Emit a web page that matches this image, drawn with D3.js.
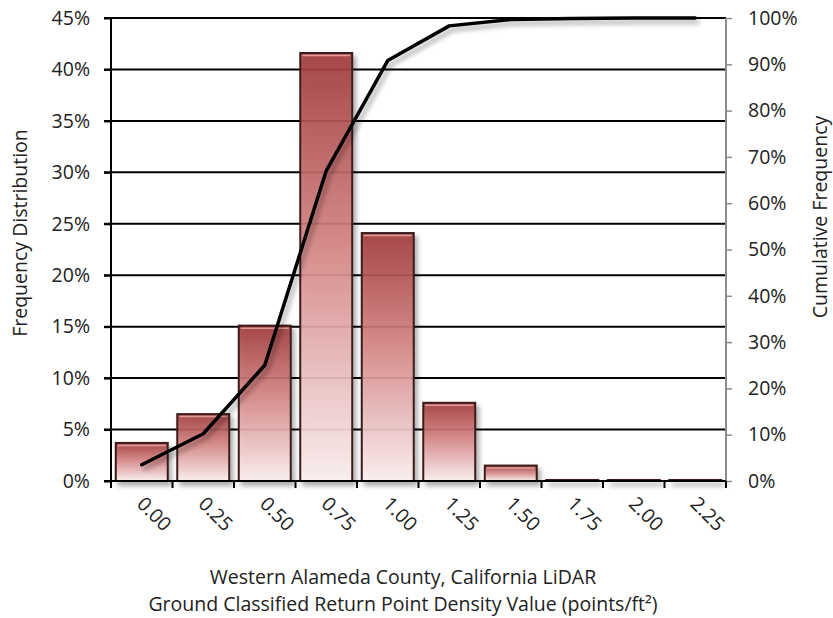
<!DOCTYPE html>
<html>
<head>
<meta charset="utf-8">
<script src="https://cdn.jsdelivr.net/npm/d3@7/dist/d3.min.js"></script>
<style>
  html, body { margin: 0; padding: 0; background: #fff; }
  svg { display: block; font-family: "Open Sans", "Noto Sans", sans-serif; }
</style>
</head>
<body>
<svg id="chart" width="833" height="618"></svg>
<script>
// ---- Data ----
const categories = ["0.00", "0.25", "0.50", "0.75", "1.00", "1.25", "1.50", "1.75", "2.00", "2.25"];
const frequency = [0.037, 0.065, 0.151, 0.416, 0.241, 0.076, 0.015, 0.001, 0.001, 0.001];
const cumulative = [0.035, 0.102, 0.250, 0.670, 0.908, 0.983, 0.997, 0.999, 1.0, 1.0];
const leftTicks = [0, 0.05, 0.10, 0.15, 0.20, 0.25, 0.30, 0.35, 0.40, 0.45];
const rightTicks = [0, 0.1, 0.2, 0.3, 0.4, 0.5, 0.6, 0.7, 0.8, 0.9, 1.0];
const yTitleLeft = "Frequency Distribution";
const yTitleRight = "Cumulative Frequency";
const xTitleLines = ["Western Alameda County, California LiDAR", "Ground Classified Return Point Density Value (points/ft\u00B2)"];

// ---- Layout ----
const L = 111, R = 726, T = 18, B = 481;
const tickFont = 19.5, titleFont = 19.5;
const svg = d3.select("#chart");
const defs = svg.append("defs");

const grad = defs.append("linearGradient").attr("id", "barGrad")
  .attr("x1", 0).attr("y1", 0).attr("x2", 0).attr("y2", 1);
grad.append("stop").attr("offset", "0%").attr("stop-color", "#a13b3b");
grad.append("stop").attr("offset", "45%").attr("stop-color", "#d68585");
grad.append("stop").attr("offset", "100%").attr("stop-color", "#fdf0f0");

const sh = defs.append("filter").attr("id", "shadow")
  .attr("x", "-20%").attr("y", "-20%").attr("width", "140%").attr("height", "140%");
sh.append("feGaussianBlur").attr("in", "SourceAlpha").attr("stdDeviation", 2.5).attr("result", "b");
sh.append("feOffset").attr("in", "b").attr("dx", 3).attr("dy", 4).attr("result", "o");
sh.append("feComponentTransfer").attr("in", "o").attr("result", "oa")
  .append("feFuncA").attr("type", "linear").attr("slope", 0.35);
const mg = sh.append("feMerge");
mg.append("feMergeNode").attr("in", "oa");
mg.append("feMergeNode").attr("in", "SourceGraphic");

// ---- Scales ----
const x = d3.scaleBand().domain(categories).range([L, R]).paddingInner(0.155).paddingOuter(0.0775);
const xEdge = d3.scaleLinear().domain([0, categories.length]).range([L, R]);
const yL = d3.scaleLinear().domain([0, 0.45]).range([B, T]);
const yR = d3.scaleLinear().domain([0, 1]).range([B, T]);

// ---- Gridlines ----
svg.append("g").selectAll("line").data(leftTicks).join("line")
  .attr("x1", L - 7).attr("x2", R)
  .attr("y1", d => yL(d)).attr("y2", d => yL(d))
  .attr("stroke", "#000").attr("stroke-width", 2);

// ---- Bars ----
const bars = svg.append("g").attr("filter", "url(#shadow)");
bars.selectAll("rect.bar").data(frequency).join("rect").attr("class", "bar")
  .attr("x", (d, i) => x(categories[i]))
  .attr("width", x.bandwidth())
  .attr("y", d => yL(d))
  .attr("height", d => B - yL(d))
  .attr("fill", "url(#barGrad)")
  .attr("fill-opacity", 0.9)
  .attr("stroke", "#3d1a1a")
  .attr("stroke-width", 2);
bars.selectAll("line.hl").data(frequency).join("line").attr("class", "hl")
  .attr("x1", (d, i) => x(categories[i]) + 2)
  .attr("x2", (d, i) => x(categories[i]) + x.bandwidth() - 2)
  .attr("y1", d => yL(d) + 2.5).attr("y2", d => yL(d) + 2.5)
  .attr("stroke", "#e29a9a").attr("stroke-width", d => (B - yL(d)) > 6 ? 1.5 : 0);

// ---- Left axis ----
const axL = svg.append("g").attr("transform", `translate(${L},0)`)
  .call(d3.axisLeft(yL).tickValues(leftTicks).tickFormat(d3.format(".0%")).tickSize(7).tickPadding(14));
axL.select(".domain").attr("stroke", "#000").attr("stroke-width", 2).attr("d", `M0,${T}V${B + 7}`);
axL.selectAll(".tick line").attr("stroke", "#000").attr("stroke-width", 2);
axL.selectAll(".tick text").attr("font-size", tickFont).attr("fill", "#222").attr("font-family", "Open Sans");

// ---- Right axis ----
const axR = svg.append("g").attr("transform", `translate(${R},0)`)
  .call(d3.axisRight(yR).tickValues(rightTicks).tickFormat(d3.format(".0%")).tickSize(6).tickPadding(16));
axR.select(".domain").attr("stroke", "#8c8c8c").attr("stroke-width", 2).attr("d", `M0,${T}V${B}`);
axR.selectAll(".tick line").attr("stroke", "#8c8c8c").attr("stroke-width", 1.5);
axR.selectAll(".tick text").attr("font-size", tickFont).attr("fill", "#222").attr("font-family", "Open Sans");

// ---- Bottom axis ticks ----
const edges = d3.range(categories.length + 1);
svg.append("g").selectAll("line").data(edges).join("line")
  .attr("x1", d => xEdge(d)).attr("x2", d => xEdge(d))
  .attr("y1", B).attr("y2", B + 7)
  .attr("stroke", "#000").attr("stroke-width", 2);
svg.append("line").attr("x1", L).attr("x2", R).attr("y1", B).attr("y2", B)
  .attr("stroke", "#000").attr("stroke-width", 2);

svg.append("g").selectAll("text").data(categories).join("text")
  .attr("transform", d => `translate(${x(d) + x.bandwidth() / 2 - 6},${B + 24}) rotate(45)`)
  .attr("text-anchor", "start")
  .attr("font-size", tickFont).attr("fill", "#222")
  .text(d => d);

// ---- Cumulative line ----
const line = d3.line()
  .x((d, i) => x(categories[i]) + x.bandwidth() / 2)
  .y(d => yR(d));
svg.append("path").datum(cumulative)
  .attr("d", line)
  .attr("fill", "none").attr("stroke", "#000").attr("stroke-width", 3.5)
  .attr("stroke-linejoin", "round").attr("stroke-linecap", "round")
  .attr("filter", "url(#shadow)");

// ---- Titles ----
svg.append("text")
  .attr("transform", `translate(27,233) rotate(-90)`)
  .attr("text-anchor", "middle").attr("font-size", titleFont).attr("fill", "#222")
  .text(yTitleLeft);
svg.append("text")
  .attr("transform", `translate(827,217) rotate(-90)`)
  .attr("text-anchor", "middle").attr("font-size", titleFont).attr("fill", "#222")
  .text(yTitleRight);
svg.append("g").selectAll("text").data(xTitleLines).join("text")
  .attr("x", 403).attr("y", (d, i) => 584 + i * 27)
  .attr("text-anchor", "middle").attr("font-size", titleFont).attr("fill", "#222")
  .text(d => d);
</script>
</body>
</html>
